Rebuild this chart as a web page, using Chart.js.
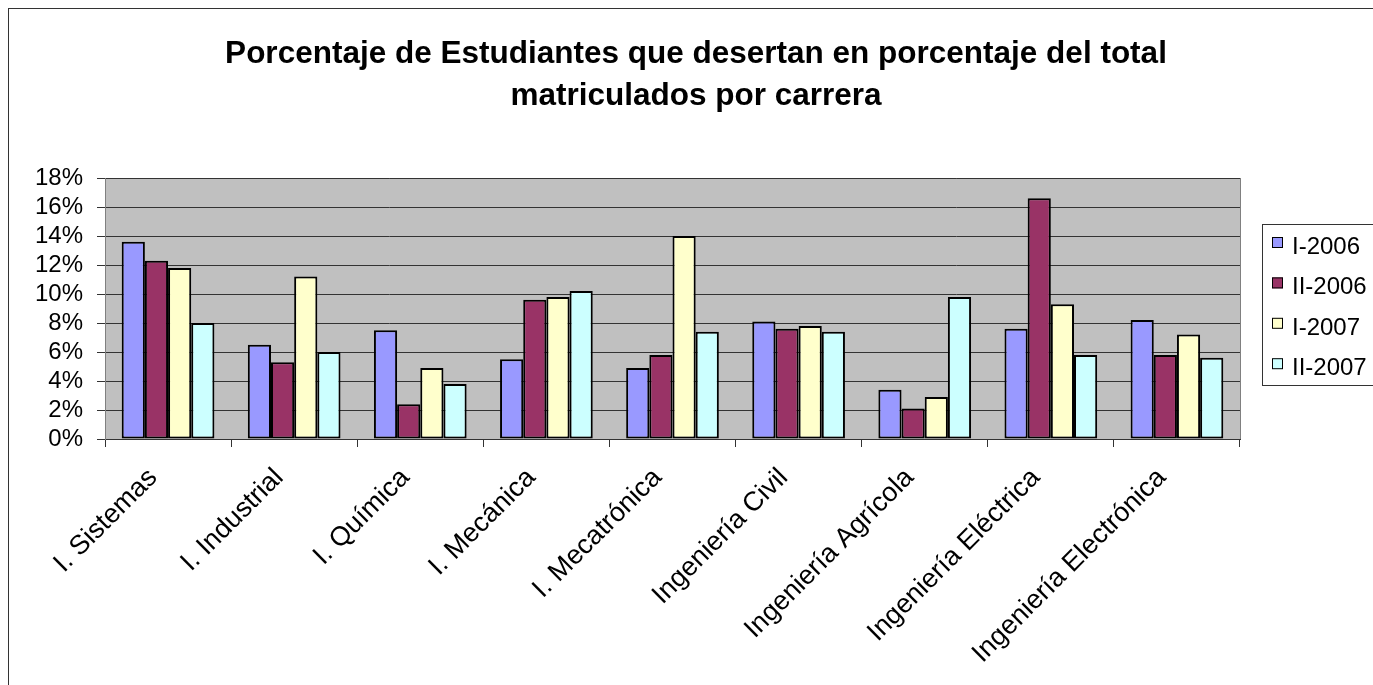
<!DOCTYPE html>
<html>
<head>
<meta charset="utf-8">
<script src="https://cdn.jsdelivr.net/npm/chart.js"></script>
<style>
  html, body { margin: 0; padding: 0; background: #fff; overflow: hidden; }
  #wrap { position: relative; width: 1373px; height: 685px; }
</style>
</head>
<body>
<div id="wrap"><canvas id="grafico"></canvas></div>
<script>
// Datos (porcentaje de desercion)
const carreras = ['I. Sistemas', 'I. Industrial', 'I. Química', 'I. Mecánica', 'I. Mecatrónica',
    'Ingeniería Civil', 'Ingeniería Agrícola', 'Ingeniería Eléctrica', 'Ingeniería Electrónica'];
const periodos = ['I-2006', 'II-2006', 'I-2007', 'II-2007'];
const i2006 = [13.6, 6.5, 7.5, 5.5, 4.9, 8.1, 3.4, 7.6, 8.2];
const ii2006 = [12.3, 5.3, 2.4, 9.6, 5.8, 7.6, 2.1, 16.6, 5.8];
const i2007 = [11.8, 11.2, 4.9, 9.8, 14.0, 7.8, 2.9, 9.3, 7.2];
const ii2007 = [8.0, 6.0, 3.8, 10.2, 7.4, 7.4, 9.8, 5.8, 5.6];
const colores = ['#9999FF', '#993366', '#FFFFCC', '#CCFFFF'];
const tituloLineas = ['Porcentaje de Estudiantes que desertan en porcentaje del total', 'matriculados por carrera'];

const fuente = "'Liberation Sans', Arial, sans-serif";
Chart.defaults.font.family = fuente;
Chart.defaults.color = '#000';

// Fondo gris del area de trazado, borde exterior, titulo y leyenda
const decoracion = {
    id: 'decoracion',
    beforeDraw(chart) {
        const ctx = chart.ctx;
        const a = chart.chartArea;
        ctx.save();
        ctx.fillStyle = '#fff';
        ctx.fillRect(0, 0, chart.width, chart.height);
        ctx.strokeStyle = '#333';
        ctx.lineWidth = 1;
        ctx.strokeRect(8.5, 8.5, chart.width + 20, chart.height + 20);
        ctx.fillStyle = '#C0C0C0';
        ctx.fillRect(a.left, a.top, a.right - a.left, a.bottom - a.top);
        ctx.strokeStyle = '#808080';
        ctx.strokeRect(a.left + 0.5, a.top + 0.5, a.right - a.left, a.bottom - a.top);
        ctx.restore();
    },
    afterDraw(chart) {
        const ctx = chart.ctx;
        ctx.save();
        // titulo
        ctx.fillStyle = '#000';
        ctx.font = 'bold 31.5px ' + fuente;
        ctx.textAlign = 'center';
        ctx.textBaseline = 'alphabetic';
        tituloLineas.forEach((t, i) => ctx.fillText(t, 696, 63 + i * 42));
        // leyenda
        ctx.strokeStyle = '#333';
        ctx.lineWidth = 1;
        ctx.strokeRect(1262.5, 224.5, 200, 161);
        ctx.font = '24px ' + fuente;
        ctx.textAlign = 'left';
        chart.data.datasets.forEach((ds, i) => {
            const yb = 254 + i * 40.4;
            ctx.fillStyle = ds.backgroundColor;
            ctx.fillRect(1272, yb - 17, 11, 11);
            ctx.strokeStyle = '#000';
            ctx.strokeRect(1272.5, yb - 16.5, 10, 10);
            ctx.fillStyle = '#000';
            ctx.fillText(ds.label, 1292, yb);
        });
        ctx.restore();
    }
};

const series = [i2006, ii2006, i2007, ii2007];

const ctx = document.getElementById('grafico').getContext('2d');
const grafico = new Chart(ctx, {
    type: 'bar',
    data: {
        labels: carreras,
        datasets: series.map((valores, i) => ({
            label: periodos[i],
            data: valores,
            backgroundColor: colores[i],
            borderColor: '#000',
            borderWidth: 2,
            borderSkipped: false,
            barPercentage: 1.0,
            categoryPercentage: 0.735
        }))
    },
    options: {
        responsive: true,
        maintainAspectRatio: false,
        animation: false,
        devicePixelRatio: 1,
        layout: { padding: { top: 178, right: 133, bottom: 0, left: 0 } },
        plugins: {
            legend: { display: false },
            title: { display: false },
            tooltip: { enabled: false }
        },
        scales: {
            x: {
                grid: { display: true, drawOnChartArea: false, drawTicks: true, tickLength: 8, color: '#333', offset: true },
                border: { color: '#333', width: 1 },
                ticks: {
                    autoSkip: false,
                    minRotation: 45,
                    maxRotation: 45,
                    padding: 15,
                    labelOffset: -15,
                    font: { size: 27 },
                    color: '#000'
                },
                afterFit(scale) { scale.height = 246; }
            },
            y: {
                min: 0,
                max: 18,
                grid: { color: '#333', tickLength: 8, drawTicks: true },
                border: { color: '#808080', width: 1 },
                ticks: {
                    stepSize: 2,
                    autoSkip: false,
                    padding: 14,
                    font: { size: 24 },
                    color: '#000',
                    callback: v => v + '%'
                },
                afterFit(scale) { scale.width = 105; }
            }
        }
    },
    plugins: [decoracion]
});
</script>
</body>
</html>
